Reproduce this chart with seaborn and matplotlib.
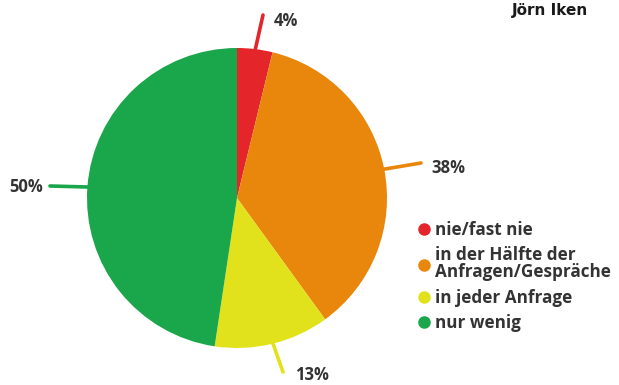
import numpy as np
import matplotlib
matplotlib.use("Agg")
import matplotlib.pyplot as plt
import seaborn as sns
from matplotlib.lines import Line2D

categories = ["nie/fast nie", "in der Hälfte der\nAnfragen/Gespräche", "in jeder Anfrage", "nur wenig"]
values = [4, 38, 13, 50]
labels = ["4%", "38%", "13%", "50%"]
colors = ["#e4262b", "#e9860c", "#e2e21c", "#1aa64a"]
author = "Jörn Iken"

sns.set_theme(style="white")
plt.rcParams["font.family"] = ["Open Sans", "DejaVu Sans"]

W, H = 619, 385
fig = plt.figure(figsize=(W / 100, H / 100), dpi=100)
ax = fig.add_axes([0, 0, 1, 1])

cx, cy, r = 237, H - 198, 150
wedges, _ = ax.pie(values, colors=colors, startangle=90, counterclock=False,
                   center=(cx, cy), radius=r, wedgeprops=dict(linewidth=0))
ax.set_xlim(0, W)
ax.set_ylim(0, H)
ax.set_aspect("auto")
ax.axis("off")

# label positions (pixel layout, y from top) and leader end points
label_pos = [(286, 21), (448, 168), (312, 375), (26, 187)]
line_end = [(263, 15), (421, 163), (283, 372), (50, 186)]

for w, lab, (tx, ty), (lx, ly), c in zip(wedges, labels, label_pos, line_end, colors):
    ang = np.deg2rad((w.theta1 + w.theta2) / 2)
    sx = cx + r * 0.97 * np.cos(ang)
    sy = cy + r * 0.97 * np.sin(ang)
    ax.plot([sx, lx], [sy, H - ly], color=c, lw=2.6, solid_capstyle="round")
    ax.text(tx, H - ty, lab, ha="center", va="center", fontsize=12,
            fontweight="bold", color="#333333")

ax.text(550, H - 11, author, ha="center", va="center", fontsize=11,
        fontweight="bold", color="#1a1a1a",
        family=["Liberation Sans Narrow", "DejaVu Sans"])

handles = [Line2D([0], [0], marker="o", color="none", markerfacecolor=c,
                  markeredgecolor=c, markersize=8) for c in colors]
leg = ax.legend(handles, categories, loc="upper left",
                bbox_to_anchor=(420 / W, 1 - 221 / H), frameon=False,
                fontsize=12.3, handlelength=0.5, handletextpad=0.35,
                labelspacing=0.42, borderpad=0, borderaxespad=0)
for t in leg.get_texts():
    t.set_fontweight("bold")
    t.set_color("#333333")
    t.set_linespacing(0.95)

fig.savefig("out.png", dpi=100, facecolor="white")
